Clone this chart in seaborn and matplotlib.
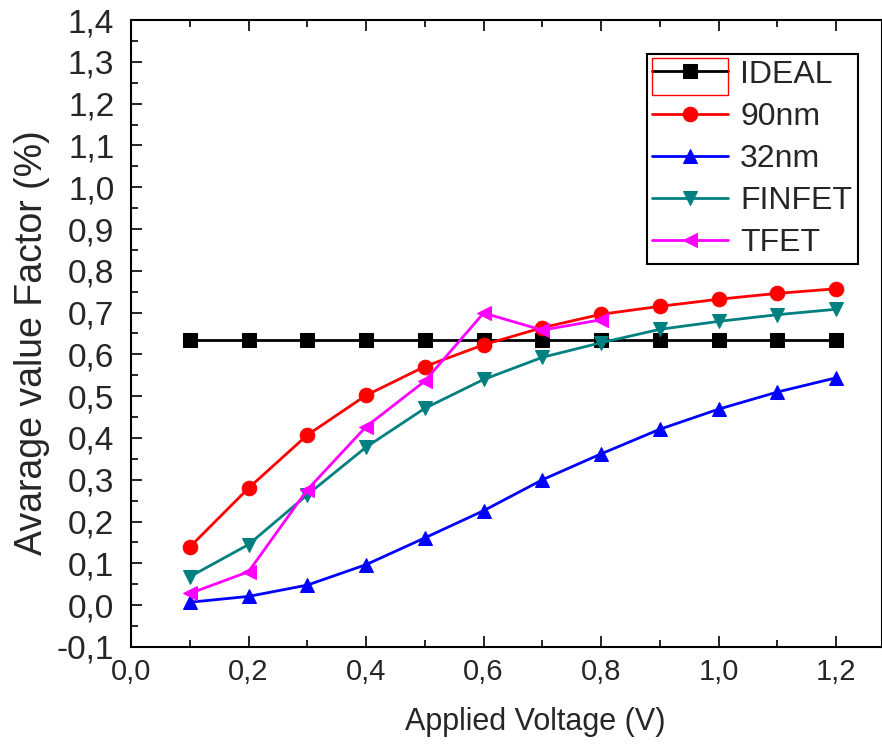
import numpy as np
import pandas as pd
import matplotlib
matplotlib.use("Agg")
import matplotlib.pyplot as plt
import seaborn as sns
from matplotlib.ticker import FuncFormatter, MultipleLocator
from matplotlib.patches import Rectangle

voltage = [0.1, 0.2, 0.3, 0.4, 0.5, 0.6, 0.7, 0.8, 0.9, 1.0, 1.1, 1.2]
ideal = [0.634] * 12
nm90 = [0.139, 0.280, 0.407, 0.502, 0.571, 0.623, 0.664, 0.696, 0.715, 0.732, 0.746, 0.757]
nm32 = [0.007, 0.021, 0.048, 0.097, 0.161, 0.226, 0.300, 0.362, 0.421, 0.469, 0.510, 0.544]
finfet = [0.068, 0.145, 0.264, 0.378, 0.471, 0.540, 0.593, 0.628, 0.660, 0.679, 0.695, 0.708]
tfet_v = [0.1, 0.2, 0.3, 0.4, 0.5, 0.6, 0.7, 0.8]
tfet = [0.028, 0.080, 0.276, 0.427, 0.536, 0.699, 0.658, 0.683]

series = [
    ("IDEAL", voltage, ideal, "black", "s"),
    ("90nm", voltage, nm90, "red", "o"),
    ("32nm", voltage, nm32, "blue", "^"),
    ("FINFET", voltage, finfet, "#008080", "v"),
    ("TFET", tfet_v, tfet, "magenta", "<"),
]

sns.set_theme(style="ticks")
plt.rcParams["font.family"] = ["Liberation Sans", "DejaVu Sans"]

fig = plt.figure(figsize=(8.82, 7.44), dpi=100)
ax = fig.add_axes([0.1485, 0.1304, 0.8515, 0.8427])

for name, xs, ys, col, mk in series:
    df = pd.DataFrame({"x": xs, "y": ys})
    sns.lineplot(data=df, x="x", y="y", ax=ax, color=col, marker=mk,
                 markersize=10.5, markeredgecolor=col, linewidth=2.0, label=name)

ax.set_xlim(0, 1.278)
ax.set_ylim(-0.1, 1.4)
ax.xaxis.set_major_locator(MultipleLocator(0.2))
ax.xaxis.set_minor_locator(MultipleLocator(0.1))
ax.yaxis.set_major_locator(MultipleLocator(0.1))
ax.yaxis.set_minor_locator(MultipleLocator(0.05))

def fmt(v, pos):
    s = f"{v:.1f}"
    if s == "-0.0":
        s = "0.0"
    return s.replace(".", ",")

ax.xaxis.set_major_formatter(FuncFormatter(fmt))
ax.yaxis.set_major_formatter(FuncFormatter(fmt))

ax.tick_params(which="both", direction="in", top=True, right=False, color="black", width=1.2)
ax.tick_params(which="major", length=8)
ax.tick_params(which="minor", length=5)
ax.tick_params(axis="x", labelsize=21, pad=8)
ax.tick_params(axis="y", labelsize=24, pad=12)
for sp in ax.spines.values():
    sp.set_color("black")
    sp.set_linewidth(1.5)

ax.set_xlabel("Applied Voltage (V)", fontsize=22)
ax.set_ylabel("Avarage value Factor (%)", fontsize=27)
ax.xaxis.set_label_coords(0.538, -0.095)
ax.yaxis.set_label_coords(-0.108, 0.486)

leg = ax.legend(loc="upper right", bbox_to_anchor=(0.968, 0.946), borderaxespad=0,
                fontsize=23, frameon=True, fancybox=False, edgecolor="black",
                handlelength=2.38, handletextpad=0.37, labelspacing=0.38,
                borderpad=0.18, framealpha=1)
leg.get_frame().set_linewidth(1.5)

ax.add_patch(Rectangle((0.694, 0.880), 0.101, 0.059, transform=ax.transAxes,
                       fill=False, edgecolor="red", linewidth=1.0, zorder=10, clip_on=False))

fig.savefig("out.png", dpi=100)
